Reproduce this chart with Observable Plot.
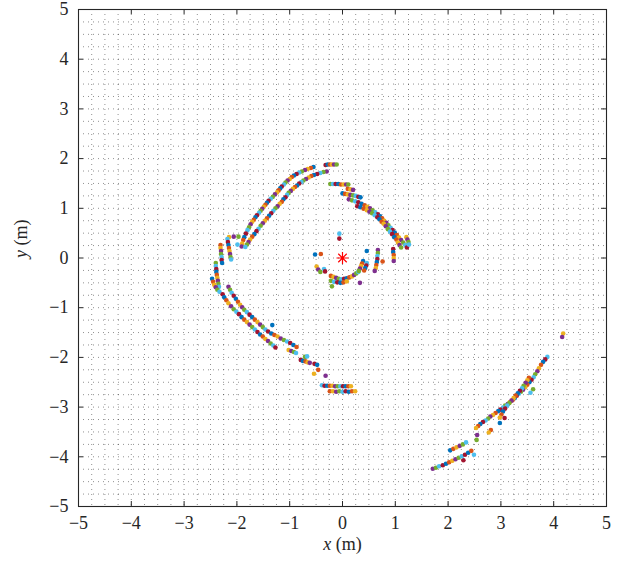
<!DOCTYPE html>
<html>
<head>
<meta charset="utf-8">
<script src="https://cdn.jsdelivr.net/npm/d3@7"></script>
<script src="https://cdn.jsdelivr.net/npm/@observablehq/plot@0.6"></script>
<style>
  html, body { margin: 0; padding: 0; background: #fff; }
  svg text { font-family: "Liberation Serif", Tinos, "Times New Roman", Times, serif !important; }
</style>
</head>
<body>
<div id="chart"></div>
<script>
// ---- axis ticks ----
const majorTicks = [-5, -4, -3, -2, -1, 0, 1, 2, 3, 4, 5];
const minorGrid = [-5, -4.75, -4.5, -4.25, -4, -3.75, -3.5, -3.25, -3, -2.75, -2.5, -2.25, -2, -1.75, -1.5, -1.25, -1, -0.75, -0.5, -0.25, 0, 0.25, 0.5, 0.75, 1, 1.25, 1.5, 1.75, 2, 2.25, 2.5, 2.75, 3, 3.25, 3.5, 3.75, 4, 4.25, 4.5, 4.75, 5];

// ---- MATLAB default colour order ----
const palette = ["#0072BD", "#D95319", "#EDB120", "#7E2F8E", "#77AC30", "#4DBEEE", "#A2142F"];

// ---- sensor position ----
const origin = [{x: 0, y: 0}];

// ---- detected points, x,y pairs ----
const upperLeftOuter = [-0.55,1.83, -0.60,1.81, -0.66,1.79, -0.71,1.77, -0.77,1.74, -0.82,1.72, -0.87,1.69, -0.92,1.66, -0.96,1.63, -1.00,1.59, -1.04,1.56, -1.08,1.52, -1.11,1.48, -1.15,1.44, -1.18,1.40, -1.21,1.36, -1.24,1.32, -1.28,1.28, -1.32,1.23, -1.36,1.19, -1.40,1.15, -1.43,1.11, -1.46,1.07, -1.49,1.03, -1.52,0.99, -1.55,0.95, -1.58,0.91, -1.62,0.86, -1.65,0.82, -1.68,0.77, -1.71,0.73, -1.74,0.68, -1.77,0.62, -1.80,0.56, -1.83,0.49, -1.86,0.42, -1.88,0.36, -1.90,0.29, -1.91,0.23];
const upperLeftInner = [-0.30,1.74, -0.36,1.73, -0.42,1.71, -0.48,1.69, -0.54,1.67, -0.59,1.65, -0.64,1.62, -0.69,1.59, -0.74,1.56, -0.78,1.53, -0.82,1.50, -0.86,1.46, -0.90,1.43, -0.94,1.39, -0.98,1.35, -1.02,1.31, -1.05,1.27, -1.08,1.22, -1.12,1.18, -1.15,1.13, -1.19,1.09, -1.23,1.04, -1.27,1.00, -1.31,0.95, -1.35,0.90, -1.39,0.85, -1.43,0.80, -1.47,0.75, -1.51,0.70, -1.55,0.65, -1.59,0.59, -1.63,0.54, -1.67,0.48, -1.71,0.43, -1.75,0.37, -1.78,0.32, -1.81,0.27, -1.84,0.22];
const topShort = [-0.32,1.87, -0.28,1.88, -0.24,1.88, -0.20,1.88, -0.16,1.88, -0.11,1.88];
const leftScatter = [-2.15,0.42, -2.06,0.43, -1.97,0.43, -1.99,0.27];
const leftA = [-2.18,0.38, -2.17,0.32, -2.16,0.26, -2.15,0.20, -2.14,0.14, -2.13,0.08, -2.12,0.02, -2.11,-0.03];
const leftB = [-2.31,0.26, -2.31,0.20, -2.30,0.14, -2.30,0.08, -2.29,0.02, -2.29,-0.04, -2.28,-0.10];
const leftC = [-2.40,-0.10, -2.40,-0.16, -2.39,-0.22, -2.39,-0.28, -2.38,-0.34, -2.37,-0.40, -2.36,-0.46, -2.35,-0.52, -2.34,-0.58];
const leftD = [-2.47,-0.42, -2.45,-0.48, -2.43,-0.54, -2.40,-0.59, -2.37,-0.64, -2.33,-0.68];
const lowerLeftP = [-2.16,-0.58, -2.13,-0.64, -2.10,-0.70, -2.06,-0.76, -2.02,-0.82, -1.98,-0.88, -1.94,-0.94, -1.90,-0.99, -1.86,-1.04, -1.81,-1.09, -1.76,-1.14, -1.71,-1.19, -1.66,-1.24, -1.61,-1.29, -1.56,-1.34, -1.51,-1.39, -1.46,-1.44, -1.41,-1.48, -1.35,-1.52, -1.29,-1.55, -1.23,-1.58, -1.17,-1.62, -1.11,-1.65, -1.05,-1.68, -0.99,-1.71, -0.93,-1.75, -0.87,-1.79];
const lowerLeftQ = [-2.27,-0.73, -2.24,-0.79, -2.20,-0.85, -2.16,-0.91, -2.11,-0.97, -2.06,-1.03, -2.01,-1.08, -1.96,-1.13, -1.91,-1.19, -1.86,-1.24, -1.81,-1.29, -1.76,-1.34, -1.71,-1.39, -1.66,-1.44, -1.61,-1.49, -1.56,-1.54, -1.51,-1.58, -1.46,-1.63, -1.41,-1.67, -1.36,-1.72, -1.31,-1.76, -1.27,-1.80, -1.33,-1.35];
const chain = [-1.02,-1.85, -0.97,-1.87, -0.92,-1.89, -0.88,-1.91, -0.79,-2.05, -0.75,-2.07, -0.70,-2.08, -0.66,-2.10, -0.62,-2.11, -0.71,-1.99, -0.67,-1.98, -0.53,-2.13, -0.48,-2.15, -0.46,-2.25, -0.54,-2.33, -0.32,-2.37];
const bottomA = [-0.39,-2.56, -0.34,-2.57, -0.29,-2.57, -0.24,-2.57, -0.19,-2.57, -0.14,-2.58, -0.09,-2.58, -0.04,-2.58, 0.01,-2.58, 0.06,-2.58, 0.11,-2.58, 0.16,-2.58];
const bottomB = [-0.24,-2.68, -0.18,-2.68, -0.12,-2.69, -0.06,-2.68, 0.00,-2.69, 0.06,-2.68, 0.12,-2.69, 0.18,-2.68, 0.24,-2.68];
const topMid = [-0.23,1.49, -0.18,1.49, -0.13,1.49, -0.08,1.49, -0.03,1.48, 0.02,1.48, 0.07,1.48, 0.11,1.48];
const topLow = [0.00,1.30, 0.05,1.29, 0.10,1.28, 0.15,1.27, 0.20,1.26, 0.25,1.25, 0.30,1.23, 0.34,1.22, 0.10,1.39, 0.15,1.38, 0.20,1.37];
const upperRightOuter = [0.12,1.18, 0.18,1.16, 0.24,1.14, 0.30,1.12, 0.36,1.09, 0.42,1.06, 0.47,1.03, 0.52,1.00, 0.57,0.96, 0.62,0.92, 0.67,0.88, 0.71,0.84, 0.75,0.80, 0.79,0.75, 0.83,0.71, 0.87,0.66, 0.91,0.61, 0.95,0.56, 0.99,0.51, 1.03,0.46, 1.07,0.41, 1.11,0.36, 1.15,0.31, 1.19,0.26, 1.22,0.21];
const upperRightInner = [0.28,1.04, 0.34,1.02, 0.40,0.99, 0.46,0.96, 0.51,0.93, 0.56,0.90, 0.61,0.86, 0.66,0.82, 0.70,0.78, 0.74,0.73, 0.78,0.69, 0.82,0.64, 0.86,0.58, 0.90,0.53, 0.94,0.48, 0.98,0.42, 1.02,0.37, 1.05,0.31, 1.08,0.26, 1.11,0.21];
const upperRightEnd = [1.21,0.42, 1.23,0.37, 1.25,0.32, 1.26,0.27];
const centreScatter = [-0.06,0.49, -0.06,0.39, -0.52,0.07, -0.41,0.08, -0.49,-0.17, -0.46,-0.23, -0.42,-0.28, -0.35,-0.22, -0.33,-0.27, 0.46,0.14, 0.76,-0.07];
const centreArcA = [-0.22,-0.36, -0.17,-0.38, -0.12,-0.40, -0.07,-0.42, -0.02,-0.43, 0.03,-0.42, 0.08,-0.41, 0.13,-0.39, 0.18,-0.37, 0.22,-0.34, 0.26,-0.31, 0.30,-0.28];
const centreArcB = [-0.22,-0.46, -0.16,-0.48, -0.10,-0.49, -0.04,-0.50, 0.02,-0.49, 0.08,-0.47, 0.33,-0.50, -0.20,-0.57];
const centreSegA = [0.39,-0.06, 0.37,-0.11, 0.35,-0.16, 0.33,-0.21, 0.31,-0.26, 0.46,-0.10, 0.45,-0.15, 0.43,-0.20, 0.41,-0.25];
const centreSegB = [0.67,0.16, 0.67,0.10, 0.66,0.04, 0.66,-0.02, 0.65,-0.08, 0.64,-0.14, 0.63,-0.20, 0.61,-0.26];
const centreSegC = [0.96,0.18, 0.96,0.12, 0.97,0.06, 0.97,0.00, 0.97,-0.06];
const lowerRightIso = [4.18,-1.52, 4.16,-1.59];
const lowerRightA = [3.88,-1.99, 3.84,-2.04, 3.80,-2.09, 3.76,-2.15, 3.72,-2.22, 3.69,-2.28, 3.65,-2.34, 3.62,-2.40, 3.58,-2.45, 3.54,-2.50, 3.50,-2.55, 3.46,-2.60, 3.42,-2.65, 3.38,-2.69, 3.34,-2.73, 3.30,-2.77, 3.26,-2.82, 3.22,-2.86, 3.17,-2.90, 3.13,-2.94, 3.08,-2.97, 3.04,-3.01, 2.99,-3.05, 2.95,-3.08, 2.90,-3.12, 2.85,-3.16, 2.80,-3.19, 2.76,-3.23, 2.71,-3.27, 2.66,-3.30, 2.61,-3.34, 2.57,-3.38, 2.53,-3.42];
const lowerRightB = [3.53,-2.41, 3.50,-2.46, 3.47,-2.51, 3.43,-2.57, 3.40,-2.62, 3.36,-2.67, 3.32,-2.72, 3.28,-2.77, 3.24,-2.82, 3.20,-2.87, 3.16,-2.92, 3.12,-2.97, 3.08,-3.03, 3.04,-3.09, 3.01,-3.15, 2.98,-3.21];
const lowerRightX = [3.61,-2.64, 3.56,-2.71, 3.07,-3.22, 2.98,-3.32, 2.81,-3.46, 2.77,-3.51, 2.55,-3.56, 2.54,-3.66, 2.49,-3.96, 2.29,-4.07];
const lowerRightC = [2.04,-3.87, 2.10,-3.84, 2.16,-3.81, 2.22,-3.78, 2.28,-3.75, 2.34,-3.71];
const lowerRightD = [1.71,-4.24, 1.77,-4.22, 1.83,-4.19, 1.90,-4.17, 1.96,-4.14, 2.02,-4.11, 2.08,-4.08, 2.14,-4.05, 2.20,-4.02, 2.26,-3.99, 2.32,-3.96, 2.38,-3.92, 2.44,-3.88];

const strands = [upperLeftOuter, upperLeftInner, topShort, leftScatter, leftA, leftB, leftC, leftD,
  lowerLeftP, lowerLeftQ, chain, bottomA, bottomB, topMid, topLow, upperRightOuter, upperRightInner,
  upperRightEnd, centreScatter, centreArcA, centreArcB, centreSegA, centreSegB, centreSegC,
  lowerRightIso, lowerRightA, lowerRightB, lowerRightX, lowerRightC, lowerRightD];

const points = strands.flatMap((s, k) => {
  const out = [];
  for (let i = 0; i < s.length; i += 2) out.push({x: s[i], y: s[i + 1], c: palette[(i / 2 + k * 3) % palette.length]});
  return out;
});

// MATLAB-style '*' marker (8 spokes)
const asterisk = {
  draw(ctx, size) {
    const r = Math.sqrt(size / Math.PI);
    for (let k = 0; k < 4; k++) {
      const a = k * Math.PI / 4, dx = r * Math.cos(a), dy = r * Math.sin(a);
      ctx.moveTo(-dx, -dy); ctx.lineTo(dx, dy);
    }
  }
};

const fmt = d => d < 0 ? "\u2212" + (-d) : String(d);
const axisColor = "#262626";

const chart = Plot.plot({
  width: 624, height: 572,
  marginLeft: 78, marginRight: 18, marginTop: 9, marginBottom: 66,
  x: {domain: [-5, 5]},
  y: {domain: [-5, 5]},
  color: {type: "identity"},
  style: {fontFamily: "Liberation Serif, Times New Roman, serif", fontSize: "18px", background: "#fff", color: axisColor},
  marks: [
    Plot.ruleX(minorGrid, {stroke: "#000", strokeOpacity: 0.55, strokeWidth: 0.8, strokeDasharray: "1,4"}),
    Plot.ruleY(minorGrid, {stroke: "#000", strokeOpacity: 0.55, strokeWidth: 0.8, strokeDasharray: "1,4"}),
    Plot.dot(points, {x: "x", y: "y", fill: "c", r: 2.3}),
    Plot.dot(origin, {x: "x", y: "y", symbol: asterisk, r: 6, fill: "none", stroke: "#FF0000", strokeWidth: 1.2}),
    Plot.ruleX(majorTicks, {y1: -5, y2: -4.9, stroke: axisColor}),
    Plot.ruleX(majorTicks, {y1: 5, y2: 4.9, stroke: axisColor}),
    Plot.ruleY(majorTicks, {x1: -5, x2: -4.905, stroke: axisColor}),
    Plot.ruleY(majorTicks, {x1: 5, x2: 4.905, stroke: axisColor}),
    Plot.frame({stroke: axisColor, strokeWidth: 1.1}),
    Plot.axisX(majorTicks, {tickSize: 0, tickPadding: 10, tickFormat: fmt, fontSize: 18, label: null}),
    Plot.axisY(majorTicks, {tickSize: 0, tickPadding: 10, tickFormat: fmt, fontSize: 18, label: null}),
    Plot.text(["x (m)"], {frameAnchor: "bottom", dy: 43, fontSize: 18, fill: axisColor}),
    Plot.text(["y (m)"], {frameAnchor: "left", dx: -57, rotate: -90, fontSize: 18, fill: axisColor})
  ]
});

chart.querySelectorAll("text").forEach(t => {
  if (t.textContent === "x (m)") t.innerHTML = '<tspan font-style="italic">x</tspan> (m)';
  if (t.textContent === "y (m)") t.innerHTML = '<tspan font-style="italic">y</tspan> (m)';
});

document.getElementById("chart").appendChild(chart);
</script>
</body>
</html>
